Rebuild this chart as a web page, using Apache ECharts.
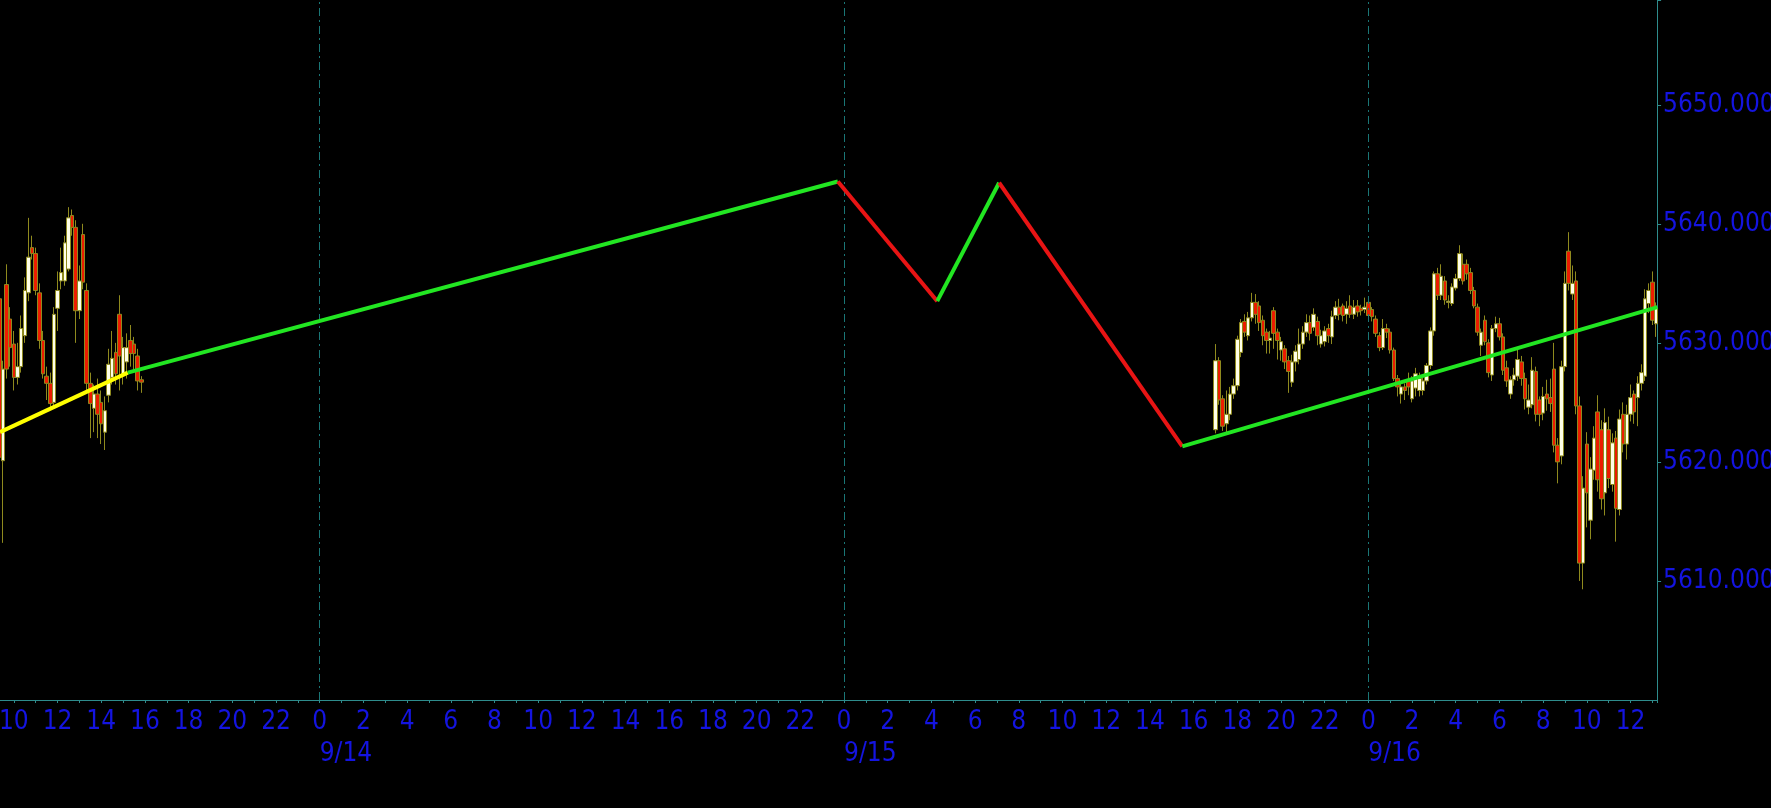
<!DOCTYPE html>
<html>
<head>
<meta charset="utf-8">
<script src="https://cdn.jsdelivr.net/npm/echarts@6/dist/echarts.min.js"></script>
<style>
  html, body { margin: 0; padding: 0; background: #000; overflow: hidden; }
  /* the first hour tick (09:00) sits just left of the window */
  #chart { position: absolute; left: -8px; top: 0; width: 1779px; height: 808px; }
</style>
</head>
<body>
<div id="chart"></div>
<script>
// 10-minute bars, [open, close, low, high]
const barMinutes = 10;

const session1Start = '09/13 09:20';
const session1Bars = [
  [5633.7, 5620.4, 5619.8, 5635.0], [5620.1, 5627.8, 5613.2, 5628.5], [5634.9, 5627.8, 5627.0, 5636.6],
  [5632.0, 5629.6, 5628.0, 5633.0], [5629.9, 5627.1, 5626.0, 5631.0], [5627.1, 5628.0, 5626.5, 5630.0],
  [5628.0, 5631.2, 5627.5, 5632.3], [5630.6, 5634.4, 5630.0, 5635.5], [5634.2, 5637.2, 5633.5, 5640.5],
  [5638.0, 5637.5, 5637.0, 5639.0], [5637.5, 5634.4, 5634.0, 5638.0], [5634.2, 5630.2, 5629.5, 5635.0],
  [5630.2, 5627.4, 5627.0, 5631.0], [5627.2, 5626.6, 5625.2, 5628.0], [5626.6, 5624.9, 5624.5, 5627.5],
  [5625.0, 5632.4, 5624.5, 5633.0], [5632.9, 5634.4, 5631.0, 5636.0], [5635.2, 5635.9, 5634.5, 5638.0],
  [5635.2, 5638.4, 5634.8, 5639.0], [5636.2, 5640.5, 5636.0, 5641.4], [5640.7, 5639.7, 5639.0, 5641.2],
  [5639.7, 5632.7, 5630.0, 5640.3], [5632.7, 5635.2, 5632.0, 5636.5], [5639.1, 5635.1, 5634.5, 5640.0],
  [5634.4, 5626.6, 5626.0, 5635.0], [5626.6, 5624.9, 5622.0, 5627.5], [5624.5, 5625.7, 5622.5, 5626.5],
  [5625.7, 5624.0, 5622.0, 5627.0], [5625.0, 5623.2, 5621.5, 5626.0], [5622.5, 5624.3, 5621.0, 5625.5],
  [5625.6, 5628.2, 5625.0, 5629.5], [5627.1, 5628.7, 5626.5, 5631.0], [5629.2, 5627.4, 5626.5, 5630.0],
  [5632.4, 5628.9, 5626.0, 5634.0], [5627.4, 5629.6, 5626.5, 5630.5], [5628.4, 5629.6, 5627.0, 5630.8],
  [5630.2, 5629.1, 5628.0, 5631.5], [5629.9, 5629.1, 5627.5, 5630.5], [5628.9, 5626.8, 5626.0, 5629.5],
  [5626.9, 5626.7, 5625.8, 5627.2]
];

const session2Start = '09/15 17:00';
const session2Bars = [
  [5622.7, 5628.5, 5622.4, 5629.9], [5628.5, 5625.2, 5624.8, 5628.8], [5625.3, 5623.0, 5622.6, 5625.6],
  [5623.2, 5624.0, 5622.5, 5626.0], [5624.0, 5625.7, 5623.5, 5626.3], [5625.7, 5626.4, 5625.3, 5627.0],
  [5626.4, 5630.3, 5626.0, 5630.6], [5629.2, 5631.7, 5628.8, 5632.0], [5631.8, 5630.9, 5630.5, 5632.4],
  [5630.6, 5632.1, 5630.2, 5632.6], [5632.1, 5633.4, 5631.8, 5634.2], [5633.4, 5632.4, 5631.6, 5634.1],
  [5633.1, 5631.7, 5631.0, 5633.5], [5631.9, 5630.6, 5629.8, 5632.3], [5630.9, 5630.2, 5629.1, 5631.2],
  [5630.2, 5630.4, 5629.1, 5631.0], [5632.7, 5630.8, 5629.5, 5633.0], [5630.9, 5630.2, 5628.6, 5631.2],
  [5629.4, 5630.1, 5628.5, 5630.5], [5629.5, 5628.4, 5627.8, 5629.8], [5628.5, 5627.6, 5625.8, 5628.9],
  [5626.7, 5628.4, 5626.3, 5629.0], [5628.4, 5629.3, 5627.6, 5629.8], [5628.6, 5629.9, 5628.2, 5631.2],
  [5629.9, 5630.9, 5629.5, 5631.4], [5630.9, 5631.7, 5630.5, 5632.4], [5631.7, 5630.8, 5630.2, 5632.3],
  [5631.3, 5632.4, 5631.0, 5632.9], [5631.8, 5630.6, 5629.8, 5632.2], [5629.9, 5630.6, 5629.6, 5631.1],
  [5630.1, 5631.0, 5629.7, 5631.4], [5631.2, 5630.6, 5630.0, 5631.6], [5630.5, 5632.2, 5629.9, 5632.7],
  [5632.3, 5633.0, 5632.0, 5633.5], [5633.0, 5632.4, 5631.9, 5633.7], [5633.1, 5632.3, 5631.8, 5633.3],
  [5632.4, 5632.9, 5631.6, 5633.5], [5633.1, 5632.4, 5632.1, 5634.0], [5632.4, 5633.0, 5632.0, 5633.6],
  [5633.1, 5632.6, 5632.2, 5633.6], [5632.9, 5632.7, 5632.3, 5633.2], [5632.8, 5633.0, 5632.5, 5633.8],
  [5633.4, 5632.3, 5631.9, 5633.8], [5632.8, 5632.2, 5631.8, 5633.0], [5632.0, 5630.8, 5630.5, 5632.3],
  [5630.6, 5629.6, 5629.3, 5630.9], [5629.6, 5631.2, 5629.4, 5632.0], [5631.2, 5630.9, 5630.4, 5631.6],
  [5630.9, 5629.4, 5629.1, 5631.2], [5629.4, 5627.0, 5626.8, 5629.6], [5627.0, 5626.3, 5625.5, 5627.3],
  [5625.7, 5626.3, 5624.9, 5626.7], [5626.3, 5626.0, 5625.2, 5626.6], [5626.8, 5626.3, 5625.6, 5627.5],
  [5625.3, 5626.8, 5625.0, 5627.2], [5626.2, 5627.4, 5625.5, 5627.9], [5626.0, 5627.0, 5625.5, 5627.5],
  [5626.0, 5626.8, 5625.6, 5627.2], [5626.8, 5628.1, 5626.5, 5628.3], [5628.1, 5631.0, 5627.8, 5631.3],
  [5631.0, 5635.8, 5630.6, 5636.0], [5635.8, 5634.0, 5633.6, 5636.3], [5634.0, 5635.6, 5633.6, 5636.6],
  [5635.2, 5633.6, 5633.2, 5635.6], [5633.4, 5633.5, 5632.9, 5634.0], [5633.3, 5634.7, 5633.1, 5635.0],
  [5634.6, 5635.4, 5634.4, 5635.8], [5635.4, 5637.5, 5635.2, 5638.2], [5636.6, 5635.2, 5634.9, 5637.5],
  [5636.6, 5635.8, 5635.3, 5637.0], [5635.9, 5634.4, 5634.1, 5636.3], [5634.4, 5633.1, 5632.9, 5634.7],
  [5633.0, 5630.9, 5630.6, 5633.3], [5629.8, 5630.9, 5628.9, 5631.2], [5631.9, 5630.1, 5629.8, 5632.3],
  [5630.0, 5627.5, 5627.1, 5630.3], [5627.3, 5631.2, 5626.8, 5631.5], [5631.2, 5631.6, 5630.9, 5632.2],
  [5631.6, 5630.5, 5630.2, 5632.1], [5630.5, 5627.7, 5627.3, 5630.8], [5627.9, 5626.8, 5626.3, 5628.5],
  [5625.7, 5626.9, 5625.3, 5627.2], [5626.9, 5627.3, 5626.4, 5627.9], [5627.2, 5628.6, 5626.8, 5629.4],
  [5628.4, 5627.0, 5626.4, 5628.9], [5627.0, 5625.3, 5624.4, 5627.5], [5624.6, 5625.2, 5624.0, 5626.5],
  [5624.8, 5627.7, 5624.5, 5628.8], [5627.6, 5624.0, 5623.4, 5628.0], [5625.2, 5624.0, 5623.0, 5625.5],
  [5624.1, 5625.5, 5623.5, 5626.3], [5625.7, 5625.3, 5624.3, 5626.9], [5625.4, 5624.9, 5624.2, 5627.0],
  [5627.8, 5621.4, 5620.8, 5630.0], [5621.4, 5620.0, 5618.2, 5622.0], [5620.5, 5628.0, 5619.8, 5628.5],
  [5628.0, 5635.0, 5627.6, 5636.0], [5637.7, 5635.0, 5634.4, 5639.3], [5634.1, 5635.0, 5633.6, 5636.5],
  [5635.2, 5624.7, 5624.0, 5636.0], [5624.7, 5611.5, 5610.0, 5625.5], [5611.5, 5617.8, 5609.3, 5618.8],
  [5621.5, 5617.4, 5614.5, 5622.5], [5615.1, 5619.4, 5613.5, 5620.4], [5619.3, 5622.0, 5618.5, 5623.0],
  [5624.2, 5618.5, 5617.5, 5625.6], [5622.7, 5616.9, 5616.0, 5623.5], [5617.4, 5623.3, 5615.5, 5624.5],
  [5622.7, 5618.6, 5617.8, 5623.8], [5618.1, 5621.6, 5617.5, 5622.4], [5622.0, 5616.1, 5613.3, 5622.6],
  [5616.0, 5623.6, 5615.5, 5624.4], [5624.0, 5621.5, 5620.8, 5625.0], [5621.5, 5624.0, 5620.2, 5624.8],
  [5624.0, 5625.4, 5623.4, 5626.5], [5625.7, 5624.2, 5623.2, 5626.0], [5625.4, 5626.6, 5623.0, 5627.2],
  [5626.6, 5627.5, 5626.0, 5628.2], [5627.2, 5633.7, 5626.8, 5634.5], [5633.3, 5634.4, 5632.5, 5635.0],
  [5635.1, 5631.9, 5631.5, 5636.0], [5631.6, 5632.9, 5630.5, 5633.4]
];

// trend / zigzag line vertices
const zigTimes = ['09/13 09:22', '09/13 15:13', '09/14 23:43', '09/15 04:16', '09/15 07:06', '09/15 15:29', '09/16 13:14'];
const zigValues = [5622.5, 5627.5, 5643.55, 5633.5, 5643.45, 5621.3, 5633.0];

// day boundaries drawn as dashed lines
const dayStarts = ['09/14 00:00', '09/15 00:00', '09/16 00:00'];

// visible window
const viewStart = '09/13 09:00';
const viewEnd = '09/16 13:13';
const yMin = 5600, yMax = 5658.8, yStep = 10;

const YEAR = 2020;
const base = Date.UTC(YEAR, 8, 14, 0, 0);
function toHours(s) {
  const [md, hm] = s.split(' ');
  const [mo, d] = md.split('/').map(Number);
  const [hh, mm] = hm.split(':').map(Number);
  return (Date.UTC(YEAR, mo - 1, d, hh, mm) - base) / 3600000;
}
function isWhole(v) { return Math.abs(v - Math.round(v)) < 1e-6; }

const candles = [];
[[session1Start, session1Bars], [session2Start, session2Bars]].forEach(([start, bars]) => {
  const t0 = toHours(start);
  bars.forEach((b, i) => candles.push([t0 + i * barMinutes / 60, b[0], b[1], b[2], b[3]]));
});

const blue = '#1414e0';
const axisColor = '#2e8c8c';
const font = '"DejaVu Sans Condensed", "DejaVu Sans", sans-serif';
const segColors = ['#ffff00', '#22e622', '#e81414', '#22e622', '#e81414', '#22e622'];

const lineSeries = segColors.map((c, i) => ({
  type: 'line',
  data: [[toHours(zigTimes[i]), zigValues[i]], [toHours(zigTimes[i + 1]), zigValues[i + 1]]],
  symbol: 'none',
  lineStyle: { color: c, width: 4 },
  z: 5,
  silent: true
}));

const chart = echarts.init(document.getElementById('chart'));
const xMin = toHours(viewStart), xMax = toHours(viewEnd);

chart.setOption({
  backgroundColor: '#000',
  animation: false,
  grid: { left: 0, right: 113.9, top: 0, bottom: 108, outerBoundsMode: 'none' },
  xAxis: [{
    type: 'value',
    min: xMin,
    max: xMax,
    interval: 1,
    axisLine: { onZero: false, lineStyle: { color: axisColor, width: 1 } },
    axisTick: { length: 3, lineStyle: { color: axisColor } },
    splitLine: { show: false },
    axisLabel: {
      color: blue, fontSize: 26, fontFamily: font, margin: 9,
      formatter: v => {
        if (!isWhole(v)) return '';
        const h = ((Math.round(v) % 24) + 24) % 24;
        return h % 2 === 0 ? String(h) : '';
      }
    }
  }, {
    type: 'value',
    min: xMin,
    max: xMax,
    interval: 1,
    position: 'bottom',
    offset: 32,
    axisLine: { show: false, onZero: false },
    axisTick: { show: false },
    splitLine: { show: false },
    axisLabel: {
      color: blue, fontSize: 26, fontFamily: font, margin: 9, align: 'left',
      formatter: v => {
        if (!isWhole(v) || ((Math.round(v) % 24) + 24) % 24 !== 0) return '';
        const d = new Date(base + Math.round(v) * 3600000);
        return (d.getUTCMonth() + 1) + '/' + d.getUTCDate();
      }
    }
  }],
  yAxis: {
    type: 'value',
    position: 'right',
    min: yMin,
    max: yMax,
    interval: yStep,
    axisLine: { show: true, onZero: false, lineStyle: { color: axisColor, width: 1 } },
    axisTick: { show: true, length: 4, lineStyle: { color: axisColor } },
    splitLine: { show: false },
    axisLabel: {
      color: blue, fontSize: 26, fontFamily: font, margin: 6,
      showMinLabel: false,
      formatter: v => (Math.abs(v / yStep - Math.round(v / yStep)) < 1e-6 ? v.toFixed(3) : '')
    }
  },
  series: [{
    type: 'candlestick',
    data: candles,
    encode: { x: 0, y: [1, 2, 3, 4] },
    barWidth: 4,
    itemStyle: {
      color: '#ffffe8',
      color0: '#ec1c00',
      borderColor: '#8f8a1e',
      borderColor0: '#8f8a1e',
      borderWidth: 1
    },
    markLine: {
      silent: true,
      symbol: ['none', 'none'],
      label: { show: false },
      lineStyle: { color: '#1a7676', type: [8, 4, 2, 4], width: 1 },
      data: dayStarts.map(s => ({ xAxis: toHours(s) }))
    }
  }].concat(lineSeries)
});
</script>
</body>
</html>
